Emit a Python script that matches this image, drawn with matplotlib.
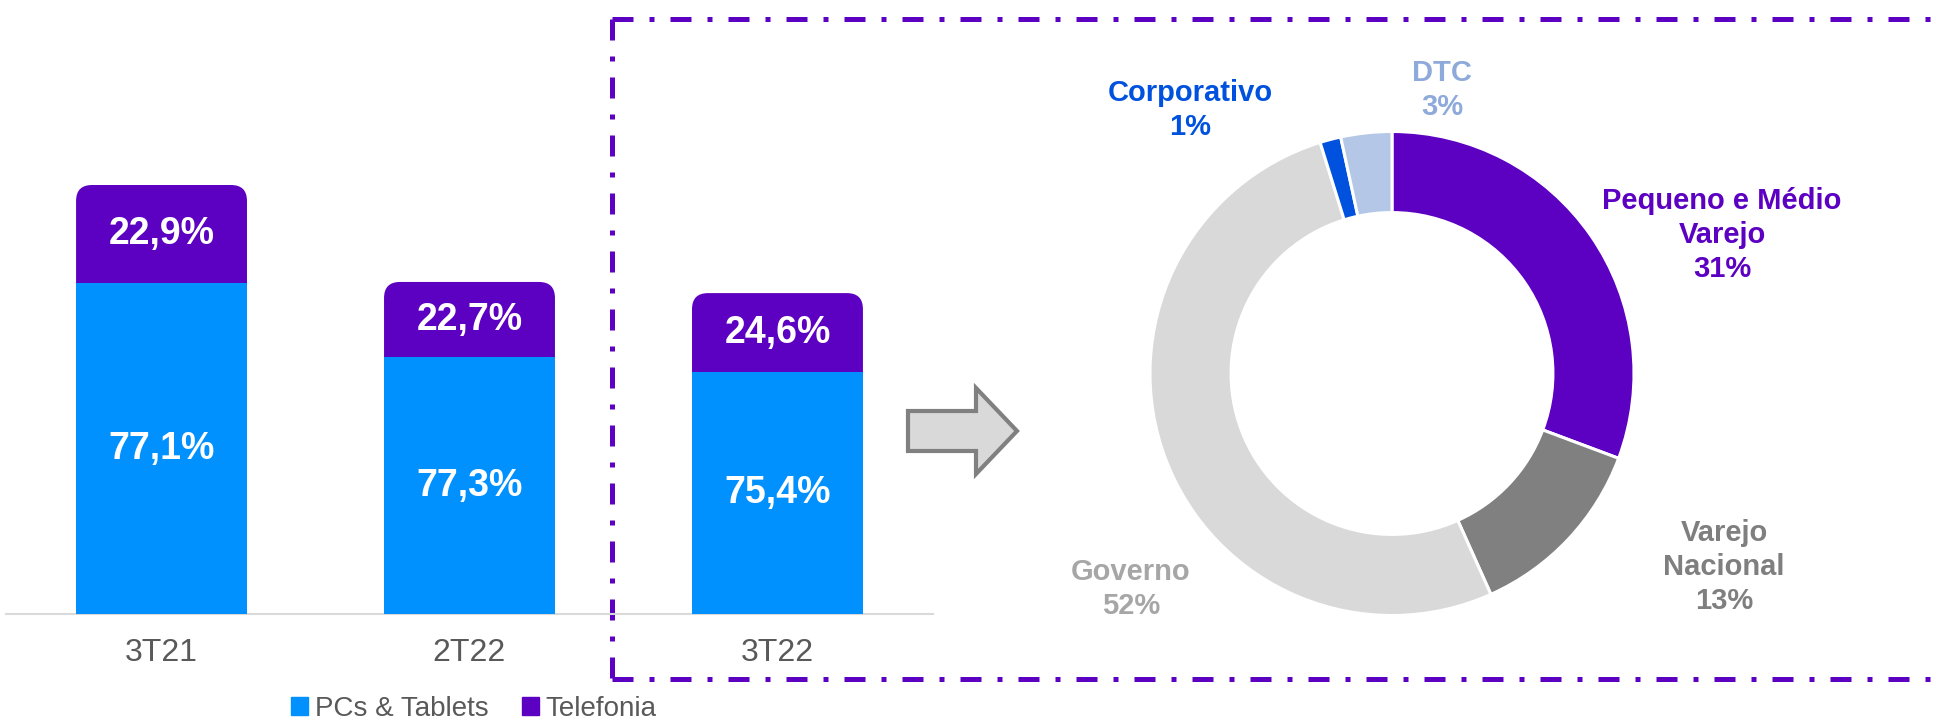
import matplotlib
matplotlib.use("Agg")
import matplotlib.pyplot as plt
from matplotlib.patches import FancyBboxPatch, Patch, Polygon

plt.rcParams['font.family'] = ['Liberation Sans', 'DejaVu Sans']

# --- dados: barras ---
trimestres = ["3T21", "2T22", "3T22"]
tamanho_rel = [100.0, 77.4, 74.8]      # altura relativa de cada barra
pcs_tablets = [77.1, 77.3, 75.4]       # % PCs & Tablets
telefonia = [22.9, 22.7, 24.6]         # % Telefonia

# --- dados: rosca (canais) ---
canais = ["Pequeno e Médio\nVarejo", "Varejo\nNacional", "Governo", "Corporativo", "DTC"]
canais_val = [30.7, 12.6, 51.9, 1.4, 3.4]
canais_txt = ["31%", "13%", "52%", "1%", "3%"]

AZUL = "#0091FF"
ROXO = "#5C00C2"
cores_rosca = [ROXO, "#808080", "#D9D9D9", "#0052DE", "#B4C7E7"]
cores_texto = [ROXO, "#7F7F7F", "#A6A6A6", "#0052DE", "#8EAADB"]

W, H = 1936, 722
fig = plt.figure(figsize=(W / 100, H / 100), dpi=100)

# ---------------------------------------------------------
# moldura tracejada + seta (coordenadas em pixels)
# ---------------------------------------------------------
deco = fig.add_axes([0, 0, 1, 1], zorder=0)
deco.set_xlim(0, W)
deco.set_ylim(H, 0)
deco.axis("off")
estilo = dict(color=ROXO, lw=3.6, linestyle=(0, (4.2, 3.2, 1.0, 3.2)))
deco.plot([612, 612], [19, 679], **estilo)
deco.plot([612, W], [19, 19], **estilo)
deco.plot([612, W], [679, 679], **estilo)
seta = Polygon([(908, 411), (976, 411), (976, 388), (1017, 431),
                (976, 474), (976, 451), (908, 451)],
               closed=True, facecolor="#D9D9D9", edgecolor="#808080",
               lw=3, joinstyle="miter")
deco.add_patch(seta)

# ---------------------------------------------------------
# barras empilhadas
# ---------------------------------------------------------
ax = fig.add_axes([6 / W, (H - 614) / H, 927 / W, (614 - 185) / H], zorder=2)
ax.set_xlim(-0.505, 2.505)
ax.set_ylim(0, 100)
x = list(range(len(trimestres)))
larg = 0.555

alt_pcs = [t * p / 100 for t, p in zip(tamanho_rel, pcs_tablets)]
alt_tel = [t * p / 100 for t, p in zip(tamanho_rel, telefonia)]

# razão px/unidade para arredondar os cantos
fig.canvas.draw()
bb = ax.get_window_extent()
px_x = bb.width / 3.01
px_y = bb.height / 100
raio = 16 / px_x
for xi, b, h in zip(x, alt_pcs, alt_tel):
    ext = raio * px_x / px_y
    p = FancyBboxPatch((xi - larg / 2, b - ext), larg, h + ext,
                       boxstyle=f"round,pad=0,rounding_size={raio}",
                       mutation_aspect=px_x / px_y,
                       facecolor=ROXO, edgecolor="none", clip_on=False, zorder=2)
    ax.add_patch(p)
ax.bar(x, alt_pcs, width=larg, color=AZUL, zorder=3)

for xi, b, h, vp, vt in zip(x, alt_pcs, alt_tel, pcs_tablets, telefonia):
    ax.text(xi, b / 2, f"{vp:.1f}%".replace(".", ","), ha="center", va="center",
            color="white", fontsize=27, fontweight="bold", zorder=4)
    ax.text(xi, b + h / 2, f"{vt:.1f}%".replace(".", ","), ha="center", va="center",
            color="white", fontsize=27, fontweight="bold", zorder=4)

for s in ["top", "right", "left"]:
    ax.spines[s].set_visible(False)
ax.spines["bottom"].set_color("#D9D9D9")
ax.spines["bottom"].set_linewidth(1.5)
ax.set_yticks([])
ax.set_xticks(x, trimestres)
ax.tick_params(axis="x", length=0, pad=17, labelsize=23, labelcolor="#595959")
ax.patch.set_alpha(0)

# legenda (no original fica encostada na borda inferior)
fig.legend(handles=[Patch(color=AZUL, label="PCs & Tablets"),
                    Patch(color=ROXO, label="Telefonia")],
           loc="upper center", bbox_to_anchor=(474 / W, (H - 696) / H),
           ncol=2, frameon=False, fontsize=20, labelcolor="#595959",
           handlelength=0.6, handleheight=0.6, handletextpad=0.25,
           columnspacing=1.2, borderpad=0, borderaxespad=0)

# ---------------------------------------------------------
# rosca
# ---------------------------------------------------------
cx, cy, R = 1392, 373.5, 242
pax = fig.add_axes([(cx - R) / W, (H - cy - R) / H, 2 * R / W, 2 * R / H], zorder=1)
pax.pie(canais_val, colors=cores_rosca, startangle=90, counterclock=False,
        radius=1, wedgeprops=dict(width=0.335, edgecolor="white", linewidth=2.2))
pax.set_xlim(-1, 1)
pax.set_ylim(-1, 1)

pos_rot = [(1722, 235), (1724, 567), (1131, 589), (1190, 110), (1442, 90)]
for nome, txt, cor, (px, py) in zip(canais, canais_txt, cores_texto, pos_rot):
    pax.text((px - cx) / R, (cy - py) / R, f"{nome}\n{txt}", ha="center", va="center",
             multialignment="center", color=cor, fontsize=21, fontweight="bold",
             linespacing=1.27)

fig.savefig("out.png", dpi=100)
